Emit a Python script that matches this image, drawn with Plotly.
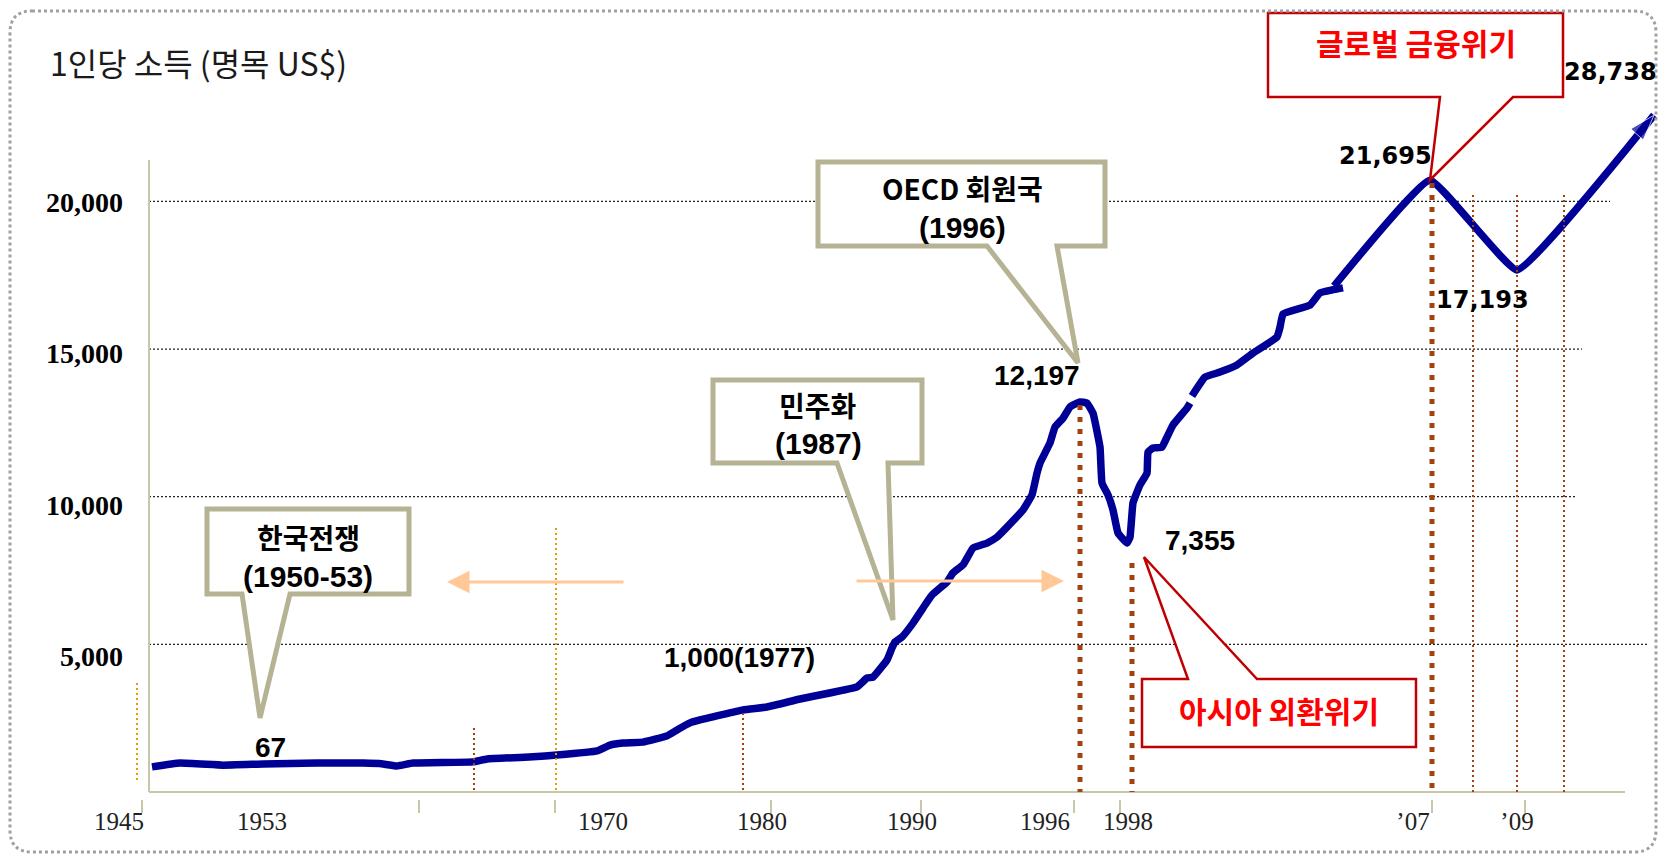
import plotly.graph_objects as go

W, H = 1663, 858
BASE = 792            # pixel row of the x axis line
PX_PER_USD = 0.02953  # vertical pixels per income unit

# ---- data (schematic positions along the time axis, income in US$) ----
early_pos = [152, 180, 223, 263, 317, 363, 383, 397, 413, 473, 487, 533, 557, 597,
             610, 623, 643, 667, 677, 690, 700, 743, 767, 800, 857, 867, 873, 887,
             892, 895, 902, 913, 923, 932, 947, 953, 963, 973, 987, 997, 1007, 1023,
             1032, 1037, 1040, 1050, 1055, 1063, 1070, 1080, 1087, 1093, 1100, 1102,
             1108, 1113, 1118, 1127, 1130, 1133, 1140, 1147, 1148, 1153, 1162, 1167,
             1173, 1187, 1190]
early_income = [850, 980, 910, 950, 980, 980, 950, 880, 980, 1020, 1120, 1190, 1250, 1390,
                1590, 1660, 1690, 1900, 2100, 2340, 2440, 2780, 2880, 3150, 3560, 3860, 3890, 4470,
                4880, 5080, 5250, 5720, 6230, 6670, 7110, 7420, 7690, 8260, 8430, 8630, 8970, 9550,
                10060, 10800, 11140, 11820, 12360, 12660, 13040, 13210, 13170, 12830, 11680, 10460,
                10060, 9550, 8770, 8430, 8630, 9790, 10400, 10800, 11510, 11650, 11680, 12020,
                12430, 13000, 13170]

mid_pos = [1192, 1205, 1220, 1237, 1253, 1277, 1280, 1283, 1310, 1320, 1332, 1343]
mid_income = [13410, 14050, 14220, 14460, 14860, 15410, 15740, 16190, 16490, 16900, 17000, 17070]

late_pos = [1334, 1430, 1517, 1654]
late_income = [17130, 20720, 17680, 22920]

tick_pos = [119, 262, 603, 762, 912, 1045, 1128, 1413, 1517]
tick_text = ["1945", "1953", "1970", "1980", "1990", "1996", "1998", "’07", "’09"]

grid_values = [20000, 15000, 10000, 5000]
grid_labels = ["20,000", "15,000", "10,000", "5,000"]
grid_ends = [1610, 1582, 1577, 1648]
grid_label_rows = [203, 353, 505, 656]

NAVY = "#000096"
KHAKI = "#B5B393"
BROWN = "#A3420F"
GOLD = "#D9A400"
KR = "Noto Sans CJK KR"
SANS = "Liberation Sans"


def paper(x, y):
    return x / W, (BASE - y) / BASE


def poly(points):
    out = []
    for i, (x, y) in enumerate(points):
        px, py = paper(x, y)
        out.append(("M" if i == 0 else "L") + f"{px:.5f},{py:.5f}")
    return " ".join(out) + " Z"


fig = go.Figure()

for xs, ys in [(early_pos, early_income), (mid_pos, mid_income), (late_pos, late_income)]:
    fig.add_trace(go.Scatter(x=xs, y=ys, mode="lines", hoverinfo="skip",
                             line=dict(color=NAVY, width=7.5, shape="spline", smoothing=0.3)))

# arrow head at the end of the last segment
fig.add_trace(go.Scatter(x=late_pos[-2:], y=late_income[-2:], mode="markers", hoverinfo="skip",
                         marker=dict(symbol="arrow", angleref="previous", size=[0, 27], color=NAVY)))

shapes = []

# dotted horizontal grid lines
for v, end in zip(grid_values, grid_ends):
    shapes.append(dict(type="line", xref="x", yref="y", x0=149, x1=end, y0=v, y1=v, layer="below",
                       line=dict(color="#222", width=1.3, dash="2px,2px")))

# axes
for (x0, y0, x1, y1) in [(149, 160, 149, BASE), (149, BASE, 1625, BASE)]:
    a, b = paper(x0, y0)
    c, d = paper(x1, y1)
    shapes.append(dict(type="line", xref="paper", yref="paper", x0=a, y0=b, x1=c, y1=d,
                       line=dict(color="#C8C7A9", width=2)))
for tx in [142, 419, 555, 771, 921, 1074, 1120, 1432, 1525]:
    a, b = paper(tx, 800)
    _, d = paper(tx, 813)
    shapes.append(dict(type="line", xref="paper", yref="paper", x0=a, x1=a, y0=b, y1=d,
                       line=dict(color="#C8C7A9", width=2)))

# vertical dotted markers
verticals = [
    (137, 683, 783, GOLD, 2, "2px,3px"),
    (556, 528, BASE, GOLD, 2, "2px,3px"),
    (474, 728, BASE, BROWN, 2, "2px,3px"),
    (743, 713, BASE, BROWN, 2, "2px,3px"),
    (1473, 195, BASE, BROWN, 2, "2px,3px"),
    (1517, 195, BASE, BROWN, 2, "2px,3px"),
    (1564, 195, BASE, BROWN, 2, "2px,3px"),
    (1080, 405, BASE, BROWN, 5, "5px,7px"),
    (1132, 563, BASE, BROWN, 5, "5px,7px"),
    (1432, 183, BASE, BROWN, 5, "5px,7px"),
]
for x, ytop, ybot, col, w, dash in verticals:
    a, b = paper(x, ytop)
    _, d = paper(x, ybot)
    shapes.append(dict(type="line", xref="paper", yref="paper", x0=a, x1=a, y0=b, y1=d,
                       line=dict(color=col, width=w, dash=dash)))

# callout boxes with pointers
callouts = [
    ([(207, 509), (409, 509), (409, 594), (290, 594), (260, 718), (242, 594), (207, 594)], KHAKI, 5),
    ([(713, 380), (922, 380), (922, 463), (888, 463), (893, 620), (837, 463), (713, 463)], KHAKI, 5),
    ([(818, 162), (1105, 162), (1105, 246), (1057, 246), (1078, 363), (987, 246), (818, 246)], KHAKI, 5),
    ([(1142, 679), (1188, 679), (1144, 557), (1257, 679), (1416, 679), (1416, 747), (1142, 747)], "#C00000", 2.5),
    ([(1268, 13), (1563, 13), (1563, 97), (1513, 97), (1430, 180), (1440, 97), (1268, 97)], "#C00000", 2.5),
]
for pts, col, w in callouts:
    shapes.append(dict(type="path", xref="paper", yref="paper", path=poly(pts),
                       fillcolor="white", line=dict(color=col, width=w)))

# outer dotted rounded frame
x0, y0, x1, y1, r = 10, 11, 1656, 852, 22
def pp(x, y):
    a, b = paper(x, y)
    return f"{a:.5f},{b:.5f}"
frame = (f"M{pp(x0 + r, y0)} L{pp(x1 - r, y0)} Q{pp(x1, y0)} {pp(x1, y0 + r)} "
         f"L{pp(x1, y1 - r)} Q{pp(x1, y1)} {pp(x1 - r, y1)} L{pp(x0 + r, y1)} "
         f"Q{pp(x0, y1)} {pp(x0, y1 - r)} L{pp(x0, y0 + r)} Q{pp(x0, y0)} {pp(x0 + r, y0)} Z")
shapes.append(dict(type="path", xref="paper", yref="paper", path=frame,
                   line=dict(color="#A0A0A0", width=3, dash="3px,3px")))

fig.update_layout(shapes=shapes)

anns = []


def text(x, y, s, size, family, color="black", weight=700, anchor="center"):
    a, b = paper(x, y)
    anns.append(dict(x=a, y=b, xref="paper", yref="paper", text=s, showarrow=False,
                     xanchor=anchor, yanchor="middle", align="center",
                     font=dict(size=size, family=family, color=color, weight=weight)))


text(48, 62, "1인당 소득 (명목 US$)", 32, KR, "#1a1a1a", 400, "left")
text(308, 537, "한국전쟁", 28, KR)
text(308, 576, "(1950-53)", 30, SANS)
text(818, 405, "민주화", 28, KR)
text(818, 444, "(1987)", 30, SANS)
text(962, 188, "OECD 회원국", 28, KR)
text(962, 227, "(1996)", 30, SANS)
text(1279, 710, "아시아 외환위기", 30, KR, "#FF0000")
text(1416, 42, "글로벌 금융위기", 30, KR, "#FF0000")

text(270, 747, "67", 28, SANS)
text(739, 657, "1,000(1977)", 28, SANS)
text(1037, 375, "12,197", 28, SANS)
text(1200, 540, "7,355", 28, SANS)
text(1385, 156, "21,695", 24, "DejaVu Sans")
text(1482, 300, "17,193", 24, "DejaVu Sans")
text(1610, 72, "28,738", 24, "DejaVu Sans")

for lab, row in zip(grid_labels, grid_label_rows):
    text(125, row, lab, 28, "Liberation Serif", anchor="right")

# light orange direction arrows
for tip, tail in [((447, 582), (625, 582)), ((1064, 581), (855, 581))]:
    a, b = paper(*tip)
    anns.append(dict(x=a, y=b, xref="paper", yref="paper", text="", showarrow=True,
                     ax=tail[0] - tip[0], ay=tail[1] - tip[1], arrowhead=2, arrowsize=1.5,
                     arrowwidth=3, arrowcolor="#FFC896"))

fig.update_layout(
    annotations=anns,
    width=W, height=H,
    margin=dict(l=0, r=0, t=0, b=H - BASE),
    paper_bgcolor="white", plot_bgcolor="white",
    showlegend=False,
    xaxis=dict(range=[0, W], showgrid=False, zeroline=False, showline=False,
               tickvals=tick_pos, ticktext=tick_text, ticks="", ticklabelstandoff=12,
               tickfont=dict(family="Liberation Serif", size=25, color="#222")),
    yaxis=dict(range=[0, BASE / PX_PER_USD], visible=False),
)

fig.write_html("out.html", config={"displayModeBar": False},
               post_script="document.body.style.margin='0';")
